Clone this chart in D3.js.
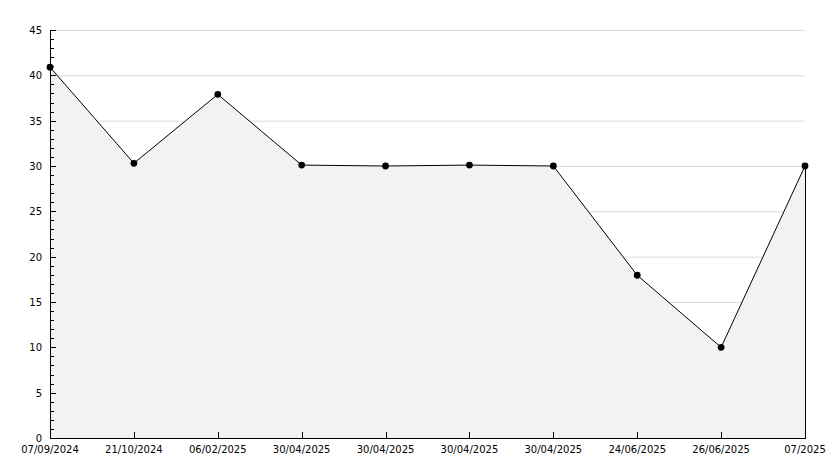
<!DOCTYPE html>
<html><head><meta charset="utf-8">
<script src="https://cdn.jsdelivr.net/npm/d3@7"></script>
<style>body{margin:0;background:#fff}svg{display:block}</style>
</head><body>
<script>
const categories = ["07/09/2024","21/10/2024","06/02/2025","30/04/2025","30/04/2025","30/04/2025","30/04/2025","24/06/2025","26/06/2025","07/2025"];
const values = [40.9, 30.3, 37.9, 30.1, 30.0, 30.1, 30.0, 17.95, 10.0, 30.0];
const yTicks = [0,5,10,15,20,25,30,35,40,45];

const W = 834, H = 468;
const m = {l:50, r:29, t:30, b:30};
const svg = d3.select("body").append("svg").attr("width",W).attr("height",H);
const idx = categories.map((d,i)=>i);
const x = d3.scalePoint().domain(idx).range([m.l, W-m.r]);
const y = d3.scaleLinear().domain([0,45]).range([H-m.b, m.t]);

// grid
svg.append("g").selectAll("line").data(yTicks.filter(d=>d>0)).join("line")
  .attr("x1",m.l).attr("x2",W-m.r).attr("y1",d=>y(d)+0.5).attr("y2",d=>y(d)+0.5)
  .attr("stroke","#dcdcdc").attr("stroke-width",1);

// area
const area = d3.area().x((d,i)=>x(i)).y0(y(0)).y1(d=>y(d));
svg.append("path").datum(values).attr("d",area).attr("fill","#f2f2f2").attr("stroke","none");
// right edge
svg.append("line").attr("x1",x(idx.length-1)+0.5).attr("x2",x(idx.length-1)+0.5)
  .attr("y1",y(values[values.length-1])).attr("y2",y(0)).attr("stroke","#000");
// line
const line = d3.line().x((d,i)=>x(i)).y(d=>y(d));
svg.append("path").datum(values).attr("d",line).attr("fill","none").attr("stroke","#000").attr("stroke-width",1);

// y axis
const font = "'DejaVu Sans', Verdana, sans-serif";
const minor = d3.range(0,46,1).filter(d=>d%5!==0);
const yg = svg.append("g");
yg.selectAll("line.minor").data(minor).join("line").attr("class","minor")
  .attr("x1",m.l).attr("x2",m.l+4).attr("y1",d=>Math.round(y(d))+0.5).attr("y2",d=>Math.round(y(d))+0.5).attr("stroke","#000");
yg.selectAll("line.major").data(yTicks).join("line").attr("class","major")
  .attr("x1",m.l).attr("x2",m.l+6).attr("y1",d=>Math.round(y(d))+0.5).attr("y2",d=>Math.round(y(d))+0.5).attr("stroke","#000");
yg.selectAll("text").data(yTicks).join("text")
  .attr("x",m.l-8).attr("y",d=>y(d)+4).attr("text-anchor","end")
  .attr("font-family",font).attr("font-size",10).attr("fill","#000").text(d=>d);
yg.append("line").attr("x1",m.l+0.5).attr("x2",m.l+0.5).attr("y1",y(45)).attr("y2",y(0)+1).attr("stroke","#000");

// x axis
const xg = svg.append("g");
xg.append("line").attr("x1",m.l).attr("x2",W-m.r+1).attr("y1",y(0)+0.5).attr("y2",y(0)+0.5).attr("stroke","#000");
xg.selectAll("line.t").data(idx).join("line").attr("class","t")
  .attr("x1",i=>Math.round(x(i))+0.5).attr("x2",i=>Math.round(x(i))+0.5).attr("y1",y(0)).attr("y2",y(0)-6).attr("stroke","#000");
xg.selectAll("text").data(idx).join("text")
  .attr("x",i=>x(i)).attr("y",y(0)+15).attr("text-anchor","middle")
  .attr("font-family",font).attr("font-size",10).attr("fill","#000").text(i=>categories[i]);

// markers
svg.append("g").selectAll("path").data(values).join("path")
  .attr("transform",(d,i)=>`translate(${x(i)},${y(d)})`)
  .attr("d",d3.symbol(d3.symbolCircle,36)).attr("fill","#000");
</script>
</body></html>
